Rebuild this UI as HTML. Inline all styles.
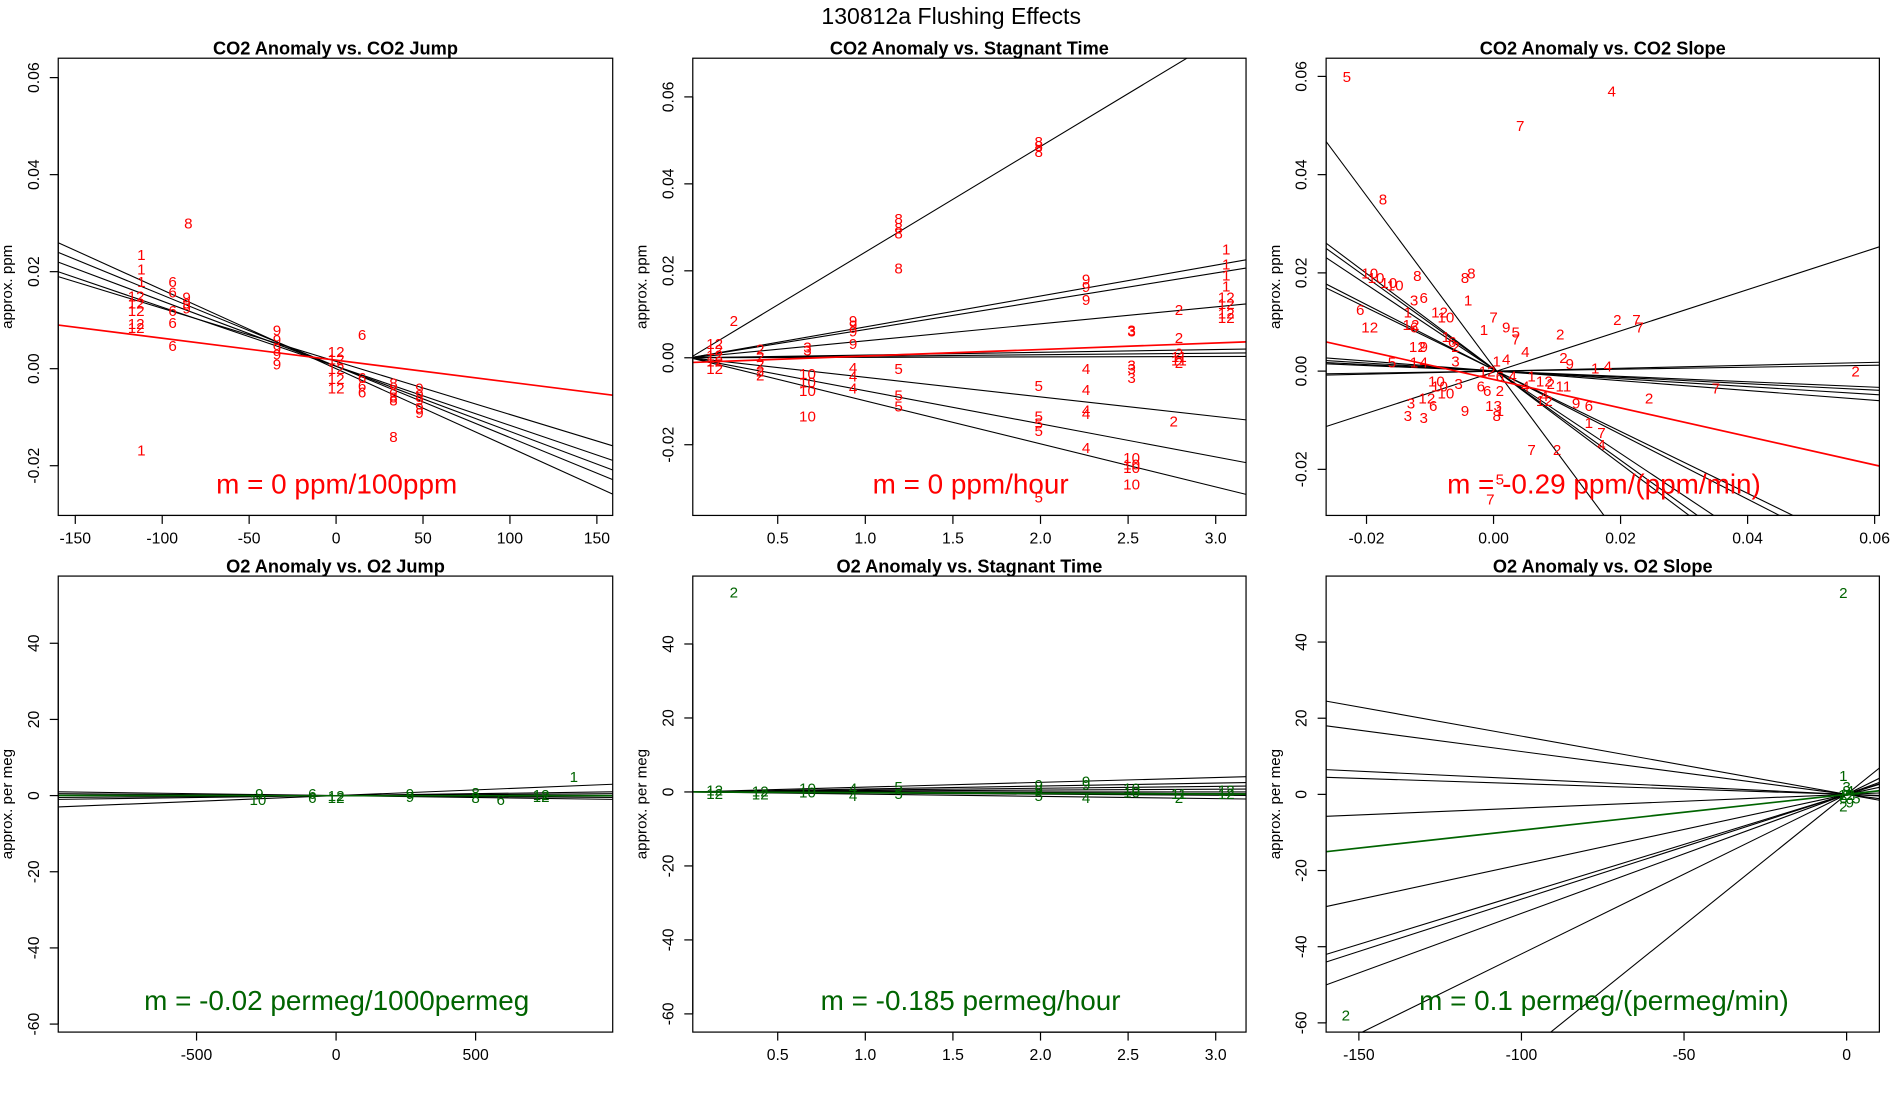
<!DOCTYPE html>
<html><head><meta charset="utf-8"><style>
html,body{margin:0;padding:0;background:#fff;width:1900px;height:1100px;overflow:hidden;}
svg{display:block;font-family:"Liberation Sans",sans-serif;}
</style></head><body>
<svg id="chart" width="1900" height="1100" viewBox="0 0 1566 907" preserveAspectRatio="none" xmlns="http://www.w3.org/2000/svg">
<text x="784" y="20" text-anchor="middle" font-size="19">130812a   Flushing Effects</text>
</svg>
<script>
// ---------- DATA ----------
const p1Points = [["8",-85,0.030],["1",-112,0.0235],["1",-112,0.0205],["1",-112,0.018],["12",-115,0.015],["12",-115,0.0135],["12",-115,0.012],["12",-115,0.0093],["12",-115,0.0085],["6",-94,0.018],["6",-94,0.0158],["6",-94,0.012],["6",-94,0.0095],["6",-94,0.0048],["9",-86,0.0148],["9",-86,0.0135],["9",-86,0.0125],["9",-34,0.008],["9",-34,0.006],["9",-34,0.0043],["9",-34,0.003],["9",-34,0.001],["6",15,0.007],["12",0,0.0035],["12",0,0.002],["12",0,0],["12",0,-0.002],["12",0,-0.004],["6",15,-0.0018],["6",15,-0.0035],["6",15,-0.0048],["8",33,-0.003],["8",33,-0.0043],["8",33,-0.0058],["8",33,-0.0065],["9",48,-0.004],["9",48,-0.0053],["9",48,-0.0065],["9",48,-0.008],["9",48,-0.009],["8",33,-0.014],["1",-112,-0.0168]];
const p1LineLeft = [0.026,0.024,0.022,0.020,0.019];
const p1LineRight = [-0.026,-0.023,-0.021,-0.019,-0.016];
const p1FitLeft = 0.009, p1FitRight = -0.0055;
const p1Label = "m = 0 ppm/100ppm";

const p2Points = [["2",0.25,0.0086],["12",0.14,0.0033],["12",0.14,0.0019],["12",0.14,0.0006],["12",0.14,-0.0008],["12",0.14,-0.0025],["2",0.40,0.002],["2",0.40,0.0003],["2",0.40,-0.0014],["2",0.40,-0.003],["2",0.40,-0.004],["3",0.67,0.0025],["3",0.67,0.0018],["10",0.67,-0.0036],["10",0.67,-0.0056],["10",0.67,-0.0075],["10",0.67,-0.0134],["9",0.93,0.0086],["9",0.93,0.0075],["9",0.93,0.0061],["9",0.93,0.0033],["4",0.93,-0.0022],["4",0.93,-0.0042],["4",0.93,-0.007],["8",1.19,0.032],["8",1.19,0.030],["8",1.19,0.0287],["8",1.19,0.0206],["5",1.19,-0.0025],["5",1.19,-0.0086],["5",1.19,-0.0111],["8",1.99,0.0497],["8",1.99,0.0488],["8",1.99,0.0474],["5",1.99,-0.0064],["5",1.99,-0.0134],["5",1.99,-0.015],["5",1.99,-0.0167],["5",1.99,-0.032],["9",2.26,0.0181],["9",2.26,0.0164],["9",2.26,0.0134],["4",2.26,-0.0025],["4",2.26,-0.0073],["4",2.26,-0.012],["4",2.26,-0.0128],["4",2.26,-0.0206],["3",2.52,0.0064],["3",2.52,0.0061],["3",2.52,-0.0017],["3",2.52,-0.0025],["3",2.52,-0.0045],["10",2.52,-0.023],["10",2.52,-0.0245],["10",2.52,-0.0253],["10",2.52,-0.029],["2",2.79,0.0111],["2",2.79,0.0047],["2",2.79,0.0011],["2",2.79,-0.0011],["2",2.76,-0.0145],["11",2.79,0.0003],["11",2.79,-0.0005],["1",3.06,0.025],["1",3.06,0.0215],["1",3.06,0.019],["1",3.06,0.0165],["12",3.06,0.014],["12",3.06,0.0103],["12",3.06,0.0092],["12",3.06,0.0125]];
const p2Slopes = [0.0243,0.0071,0.0065,0.0039,0.00063,0.00035,0.0001,-0.0045,-0.0076,-0.0099];
const p2FitIntercept = -0.0011, p2FitSlope = 0.0015;
const p2Label = "m = 0 ppm/hour";

const p3Points = [["5",-0.0231,0.060],["4",0.0186,0.057],["7",0.0042,0.050],["8",-0.0174,0.035],["10",-0.0195,0.020],["10",-0.0185,0.019],["10",-0.0155,0.0175],["10",-0.0165,0.018],["8",-0.0120,0.0195],["8",-0.0045,0.0190],["8",-0.0035,0.020],["6",-0.0210,0.0125],["12",-0.0195,0.009],["3",-0.0125,0.0145],["6",-0.0110,0.015],["12",-0.0085,0.012],["10",-0.0075,0.011],["1",-0.0135,0.012],["1",-0.0040,0.0145],["12",-0.0130,0.0095],["6",-0.0125,0.009],["7",0.0000,0.011],["1",-0.0015,0.0085],["9",0.0020,0.009],["5",0.0035,0.008],["7",0.0035,0.0065],["2",0.0105,0.0075],["2",0.0195,0.0105],["7",0.0225,0.0105],["7",0.0230,0.0090],["12",-0.0120,0.005],["9",-0.0110,0.005],["1",-0.0075,0.007],["6",-0.0065,0.006],["2",-0.0060,0.005],["5",-0.0160,0.0018],["4",-0.0110,0.0018],["1",-0.0125,0.0018],["3",-0.0060,0.002],["4",0.0050,0.004],["4",0.0020,0.0025],["1",0.0005,0.002],["2",0.0110,0.0028],["9",0.0120,0.0015],["1",0.0160,0.0006],["4",0.0180,0.001],["2",0.0570,0.0000],["7",0.0350,-0.0035],["2",0.0245,-0.0055],["12",-0.001,0.000],["6",0.001,-0.001],["4",0.003,-0.001],["1",0.006,-0.001],["12",0.008,-0.002],["2",0.009,-0.0025],["11",0.011,-0.003],["10",-0.0090,-0.002],["10",-0.0075,-0.0045],["10",-0.0085,-0.003],["3",-0.0055,-0.0025],["6",-0.0020,-0.0030],["6",-0.0010,-0.004],["2",0.0010,-0.0040],["4",0.0050,-0.0030],["12",0.0080,-0.006],["4",0.0080,-0.005],["9",0.0130,-0.0065],["6",0.0150,-0.007],["1",0.0150,-0.0105],["7",0.0170,-0.0125],["4",0.0170,-0.015],["2",0.0100,-0.016],["7",0.0060,-0.016],["3",-0.0130,-0.0065],["3",-0.0110,-0.0095],["3",-0.0135,-0.009],["12",-0.0105,-0.0055],["6",-0.0095,-0.007],["9",-0.0045,-0.008],["8",0.0005,-0.009],["1",0.0010,-0.008],["13",0.0000,-0.007],["5",0.0010,-0.022],["7",-0.0005,-0.026]];
const p3Slopes = [-1.74,-0.97,-0.93,-0.86,-0.66,-0.63,-0.1,-0.08,-0.065,-0.055,0.02,0.03,0.42];
const p3FitIntercept = -0.0017, p3FitSlope = -0.29;
const p3Label = "m = -0.29 ppm/(ppm/min)";

const p4Points = [["10",-280,-1],["9",-275,0.5],["6",-85,0.5],["6",-85,-0.5],["12",0,0],["12",0,-0.5],["9",265,0.5],["9",265,-0.3],["8",500,0.8],["8",500,-0.5],["6",590,-1],["12",735,0.3],["12",735,-0.3],["1",852,5]];
const p4Slopes = [0.003,0.001,0.0005,-0.0005,-0.001];
const p4FitSlope = -0.00002;
const p4Label = "m = -0.02 permeg/1000permeg";

const p5Points = [["2",0.25,54],["12",0.14,0.5],["12",0.14,-0.5],["12",0.40,0.3],["12",0.40,-0.6],["10",0.67,1],["10",0.67,0],["4",0.93,1],["4",0.93,-1],["5",1.19,1.5],["5",1.19,-0.5],["9",1.99,2],["9",1.99,0.5],["5",1.99,-1],["9",2.26,3],["9",2.26,2],["4",2.26,-1.5],["10",2.52,1],["10",2.52,0],["2",2.79,-1.5],["11",2.79,-0.5],["12",3.06,0.5],["12",3.06,-0.5]];
const p5Slopes = [1.3,0.8,0.5,0.25,0,-0.15,-0.3,-0.6];
const p5FitSlope = -0.185;
const p5Label = "m = -0.185 permeg/hour";

const p6Points = [["2",-1,53],["2",-154,-58],["1",-1,5],["3",0,2],["4",1,1],["12",0,0],["6",-1,-1],["2",-1,-3],["5",3,-1],["9",1,-2],["8",0,1]];
const p6Slopes = [-0.153,-0.1125,-0.0406,-0.028,0.036,0.184,0.2625,0.275,0.3125,0.419,0.686];
const p6FitSlope = 0.094;
const p6Label = "m = 0.1 permeg/(permeg/min)";

// ---------- LAYOUT ----------
const NS = "http://www.w3.org/2000/svg";
const svg = document.getElementById('chart');
function mk(tag, attrs, parent){ const e=document.createElementNS(NS,tag); for(const k in attrs) e.setAttribute(k,attrs[k]); (parent||svg).appendChild(e); return e; }

const RED="#ff0000", GREEN="#006400";
const panels = [
 {id:"co2-jump", title:"CO2 Anomaly vs. CO2 Jump", bx:48,by:48,bw:457,bh:377, xa:[0,277,1.433], ya:[0,304,4000], xt:[-150,-100,-50,0,50,100,150], yt:[-0.02,0,0.02,0.04,0.06], yfmt:2, xfmt:0, col:RED, ylab:"approx. ppm"},
 {id:"co2-stagnant", title:"CO2 Anomaly vs. Stagnant Time", bx:571,by:48,bw:456,bh:377, xa:[0,568.8,144.4], ya:[0,295,3585], xt:[0.5,1,1.5,2,2.5,3], yt:[-0.02,0,0.02,0.04,0.06], yfmt:2, xfmt:1, col:RED, ylab:"approx. ppm"},
 {id:"co2-slope", title:"CO2 Anomaly vs. CO2 Slope", bx:1093,by:48,bw:456,bh:377, xa:[0,1231,5235], ya:[0,306,4050], xt:[-0.02,0,0.02,0.04,0.06], yt:[-0.02,0,0.02,0.04,0.06], yfmt:2, xfmt:2, col:RED, ylab:"approx. ppm"},
 {id:"o2-jump", title:"O2 Anomaly vs. O2 Jump", bx:48,by:475,bw:457,bh:376, xa:[0,277,0.23], ya:[0,656,3.14], xt:[-500,0,500], yt:[-60,-40,-20,0,20,40], yfmt:0, xfmt:0, col:GREEN, ylab:"approx. per meg"},
 {id:"o2-stagnant", title:"O2 Anomaly vs. Stagnant Time", bx:571,by:475,bw:456,bh:376, xa:[0,568.8,144.4], ya:[0,653,3.05], xt:[0.5,1,1.5,2,2.5,3], yt:[-60,-40,-20,0,20,40], yfmt:0, xfmt:1, col:GREEN, ylab:"approx. per meg"},
 {id:"o2-slope", title:"O2 Anomaly vs. O2 Slope", bx:1093,by:475,bw:456,bh:376, xa:[0,1522,2.68], ya:[0,655,3.14], xt:[-150,-100,-50,0], yt:[-60,-40,-20,0,20,40], yfmt:0, xfmt:0, col:GREEN, ylab:"approx. per meg"}
];
panels.forEach((p,i)=>{
  p.sx = v => p.xa[1] + v*p.xa[2];
  p.sy = v => p.ya[1] - v*p.ya[2];
  p.inv = px => (px - p.xa[1])/p.xa[2];
});

function drawPanel(p, idx, lines, fit, points, label){
  const g = mk('g',{});
  
  
  const cp = mk('clipPath',{id:'clip'+idx}, g);
  mk('rect',{x:p.bx,y:p.by,width:p.bw,height:p.bh}, cp);
  const t = mk('text',{x:p.bx+p.bw/2,y:p.by-3,'text-anchor':'middle','font-size':15,'font-weight':'bold'},g);
  t.textContent=p.title;
  
  
  const xl = p.inv(p.bx), xr = p.inv(p.bx+p.bw);
  const lg = mk('g',{'clip-path':'url(#clip'+idx+')'},g);
  lines.forEach(([a,b])=>{
    const l = mk('line',{x1:p.sx(xl),y1:p.sy(a+b*xl),x2:p.sx(xr),y2:p.sy(a+b*xr),stroke:'#000','stroke-width':0.9},lg);
    
    
  });
  const f = mk('line',{x1:p.sx(xl),y1:p.sy(fit[0]+fit[1]*xl),x2:p.sx(xr),y2:p.sy(fit[0]+fit[1]*xr),stroke:p.col,'stroke-width':1.4},lg);
  
  
  points.forEach(([lab,x,y])=>{
    const tx = mk('text',{x:p.sx(x),y:p.sy(y)+4.5,'text-anchor':'middle','font-size':12.5,fill:p.col},lg);
    tx.textContent=lab;
    
    
  });
  const box = mk('rect',{x:p.bx,y:p.by,width:p.bw,height:p.bh,fill:'none',stroke:'#000','stroke-width':1},g);
  
  
  const axY = p.by+p.bh;
  p.xt.forEach(v=>{
    const x=p.sx(v);
    mk('line',{x1:x,y1:axY,x2:x,y2:axY+7,stroke:'#000'},g);
    const tl=mk('text',{x:x,y:axY+23,'text-anchor':'middle','font-size':13},g);
    tl.textContent = v.toFixed(p.xfmt);
    
    
  });
  mk('line',{x1:p.sx(p.xt[0]),y1:axY,x2:p.sx(p.xt[p.xt.length-1]),y2:axY,stroke:'#000'},g);
  const ys = p.yt.map(p.sy).filter(y=>y>=p.by-1&&y<=p.by+p.bh+1);
  p.yt.forEach(v=>{
    const y=p.sy(v); if(y<p.by-1||y>p.by+p.bh+1) return;
    mk('line',{x1:p.bx,y1:y,x2:p.bx-7,y2:y,stroke:'#000'},g);
    const tl=mk('text',{x:p.bx-16,y:y,'text-anchor':'middle','font-size':13,transform:`rotate(-90 ${p.bx-16} ${y})`},g);
    tl.textContent = v.toFixed(p.yfmt);
    
    
  });
  mk('line',{x1:p.bx,y1:Math.min(...ys),x2:p.bx,y2:Math.max(...ys),stroke:'#000'},g);
  const yl = mk('text',{x:p.bx-38,y:p.by+p.bh/2,'text-anchor':'middle','font-size':12.5,transform:`rotate(-90 ${p.bx-38} ${p.by+p.bh/2})`},g);
  yl.textContent=p.ylab;
  
  
  const ml = mk('text',{x:p.bx+p.bw/2+1,y:p.by+p.bh-18,'text-anchor':'middle','font-size':23,fill:p.col},g);
  ml.textContent=label;
  
  
}

drawPanel(panels[0],0, p1LineLeft.map((l,i)=>{const b=(p1LineRight[i]-l)/320; return [l+160*b,b];}), [(p1FitLeft+p1FitRight)/2,(p1FitRight-p1FitLeft)/320], p1Points, p1Label);
drawPanel(panels[1],1, p2Slopes.map(s=>[0,s]), [p2FitIntercept,p2FitSlope], p2Points, p2Label);
drawPanel(panels[2],2, p3Slopes.map(s=>[-s*0.0005,s]), [p3FitIntercept,p3FitSlope], p3Points, p3Label);
drawPanel(panels[3],3, p4Slopes.map(s=>[0,s]), [0,p4FitSlope], p4Points, p4Label);
drawPanel(panels[4],4, p5Slopes.map(s=>[0,s]), [0,p5FitSlope], p5Points, p5Label);
drawPanel(panels[5],5, p6Slopes.map(s=>[0,s]), [0,p6FitSlope], p6Points, p6Label);
</script>
</body></html>
